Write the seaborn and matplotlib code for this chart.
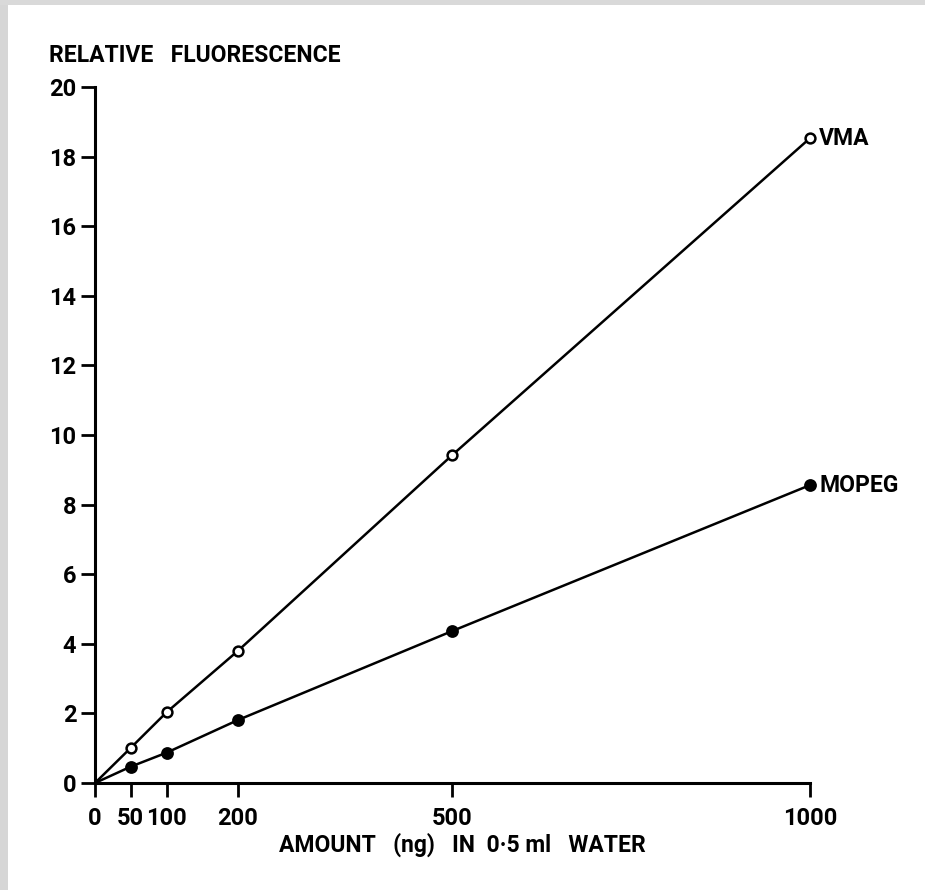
import matplotlib
matplotlib.use("Agg")
import matplotlib.pyplot as plt
from matplotlib.patches import Rectangle
import seaborn as sns
import pandas as pd

# Amount of standard (ng in 0.5 ml water); the origin anchors both lines
amount_ng = [0, 50, 100, 200, 500, 1000]
vma_fluor = [0, 1.01, 2.03, 3.80, 9.43, 18.53]
mopeg_fluor = [0, 0.47, 0.87, 1.81, 4.37, 8.56]

x_ticks = [0, 50, 100, 200, 500, 1000]
y_ticks = [0, 2, 4, 6, 8, 10, 12, 14, 16, 18, 20]

WEIGHT = 600

sns.set_theme(style="white")
plt.rcParams["font.family"] = ["Roboto", "DejaVu Sans"]
plt.rcParams["font.weight"] = WEIGHT

vma = pd.DataFrame({"amount": amount_ng, "fluor": vma_fluor})
mopeg = pd.DataFrame({"amount": amount_ng, "fluor": mopeg_fluor})

fig = plt.figure(figsize=(9.25, 8.9), dpi=100)
fig.patch.set_facecolor("white")
ax = fig.add_axes([95 / 925, 1 - 783 / 890, 715 / 925, 696 / 890])

lw = 1.8
sns.lineplot(data=vma, x="amount", y="fluor", ax=ax, color="black", lw=lw)
sns.lineplot(data=mopeg, x="amount", y="fluor", ax=ax, color="black", lw=lw)

# measured points (origin excluded)
sns.scatterplot(data=vma.iloc[1:], x="amount", y="fluor", ax=ax, s=50,
                facecolor="white", edgecolor="black", linewidth=1.8,
                zorder=3, clip_on=False)
sns.scatterplot(data=mopeg.iloc[1:], x="amount", y="fluor", ax=ax, s=85,
                color="black", edgecolor="black", linewidth=0,
                zorder=3, clip_on=False)

label_kw = dict(textcoords="offset points", va="center", ha="left",
                fontsize=16.5, color="black", fontweight=WEIGHT)
ax.annotate("VMA", xy=(vma["amount"].iloc[-1], vma["fluor"].iloc[-1]),
            xytext=(6.5, 0), **label_kw)
ax.annotate("MOPEG", xy=(mopeg["amount"].iloc[-1], mopeg["fluor"].iloc[-1]),
            xytext=(6.5, 0), **label_kw)

ax.set_xlim(0, 1000)
ax.set_ylim(0, 20)
ax.set_xticks(x_ticks)
ax.set_yticks(y_ticks)
ax.set_xticklabels([str(v) for v in x_ticks], fontweight=WEIGHT)
ax.set_yticklabels([str(v) for v in y_ticks], fontweight=WEIGHT)
ax.set_xlabel("")
ax.set_ylabel("")
ax.set_facecolor("white")

for side in ["top", "right"]:
    ax.spines[side].set_visible(False)
for side in ["left", "bottom"]:
    ax.spines[side].set_color("black")
    ax.spines[side].set_linewidth(2.2)
    ax.spines[side].set_capstyle("projecting")

ax.tick_params(axis="both", direction="out", length=10, width=2.0,
               color="black", labelsize=17, labelcolor="black")
ax.tick_params(axis="y", pad=3.5)
ax.tick_params(axis="x", pad=7)
ax.tick_params(left=True, bottom=True)

fig.text(49 / 925, 1 - 55 / 890, "RELATIVE   FLUORESCENCE", ha="left",
         va="center", fontsize=16.5, color="black", fontweight=WEIGHT)
fig.text(462 / 925, 1 - 845 / 890, "AMOUNT   (ng)   IN  0·5 ml   WATER",
         ha="center", va="center", fontsize=16.5, color="black",
         fontweight=WEIGHT)

# scanner edge shading along the left and top borders
fig.patches.append(Rectangle((0, 0), 8 / 925, 1, transform=fig.transFigure,
                             facecolor="#d6d6d6", edgecolor="none"))
fig.patches.append(Rectangle((0, 1 - 5 / 890), 1, 5 / 890,
                             transform=fig.transFigure,
                             facecolor="#d9d9d9", edgecolor="none"))

fig.savefig("out.png", dpi=100, facecolor=fig.get_facecolor())
